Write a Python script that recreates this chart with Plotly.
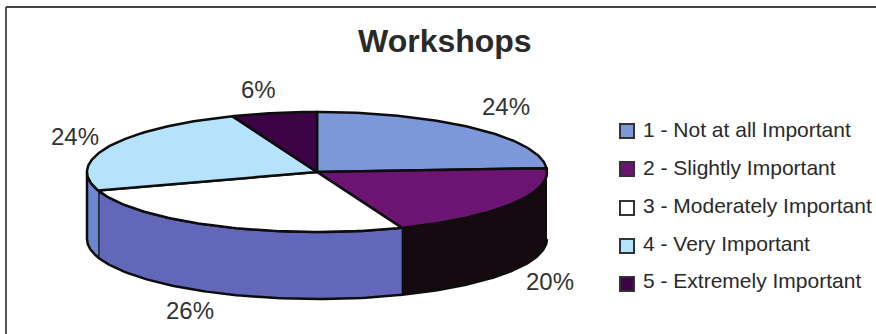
import math
import plotly.graph_objects as go

categories = ["1 - Not at all Important", "2 - Slightly Important", "3 - Moderately Important",
              "4 - Very Important", "5 - Extremely Important"]
values = [24, 20, 26, 24, 6]
top_colors = ["#7c97da", "#6b1472", "#ffffff", "#b4e3fb", "#3c0444"]
title = "Workshops"

# Layout of the drawing, in page pixels
CX, CY, RX, RY, DEPTH = 317, 172, 230, 60, 67
side_color_third = "#6367ba"
side_color_first = "#6b87d0"
side_color_second = "#140a10"
label_pos = [(506, 106), (550, 281), (190, 310), (75, 136), (258, 89)]
legend_y = [129, 167, 205, 243, 280]
swatch_y = [131, 169, 208, 246, 284]
OUT = "#0d0d0d"


def pt(deg, dy=0):
    a = math.radians(deg)
    return CX + RX * math.sin(a), CY - RY * math.cos(a) + dy


def arc(a0, a1, dy=0, n=80):
    return [pt(a0 + (a1 - a0) * i / n, dy) for i in range(n + 1)]


fig = go.Figure()


def poly(points, fill, width=2.5, color=OUT):
    fig.add_trace(go.Scatter(x=[p[0] for p in points], y=[p[1] for p in points], mode="lines",
                             fill="toself", fillcolor=fill, line=dict(color=color, width=width),
                             hoverinfo="skip", showlegend=False))


# cumulative slice angles, clockwise from 12 o'clock
angles = [0]
for v in values:
    angles.append(angles[-1] + v * 360 / sum(values))

# Outer wall: only the front half (90..270 degrees) is visible
wall = [
    (90, angles[2], side_color_second),
    (angles[2], angles[3], side_color_third),
    (angles[3], 270, side_color_first),
]
for a0, a1, col in wall:
    poly(arc(a0, a1) + arc(a1, a0, DEPTH), col)

# Top wedges
for i in range(len(values)):
    poly([(CX, CY)] + arc(angles[i], angles[i + 1]) + [(CX, CY)], top_colors[i])

# Value labels
for i, v in enumerate(values):
    fig.add_annotation(x=label_pos[i][0], y=label_pos[i][1], text=f"{v}%", showarrow=False,
                       font=dict(family="Liberation Sans", size=24, color="#333333"))

# Legend
fig.add_trace(go.Scatter(x=[627] * 5, y=swatch_y, mode="markers", hoverinfo="skip", showlegend=False,
                         marker=dict(symbol="square", size=14, color=top_colors,
                                     line=dict(color="#333333", width=2))))
for c, y in zip(categories, legend_y):
    fig.add_annotation(x=641, y=y, text=c, showarrow=False, xanchor="left",
                       font=dict(family="Liberation Sans", size=21, color="#2a2a2a"))

fig.add_annotation(x=445, y=41, text=f"<b>{title}</b>", showarrow=False,
                   font=dict(family="Liberation Sans", size=32, color="#2a2a2a"))

# Chart frame
fig.add_shape(type="line", x0=6, x1=6, y0=7, y1=334, line=dict(color="#555555", width=2))
fig.add_shape(type="line", x0=6, x1=876, y0=7, y1=7, line=dict(color="#444444", width=2))

fig.update_layout(width=876, height=334, margin=dict(l=0, r=0, t=0, b=0),
                  paper_bgcolor="white", plot_bgcolor="white", showlegend=False,
                  xaxis=dict(range=[0, 876], visible=False, fixedrange=True),
                  yaxis=dict(range=[334, 0], visible=False, fixedrange=True))
fig.write_html("out.html", config={"displayModeBar": False},
               post_script="document.body.style.margin='0';document.body.style.overflow='hidden';")
